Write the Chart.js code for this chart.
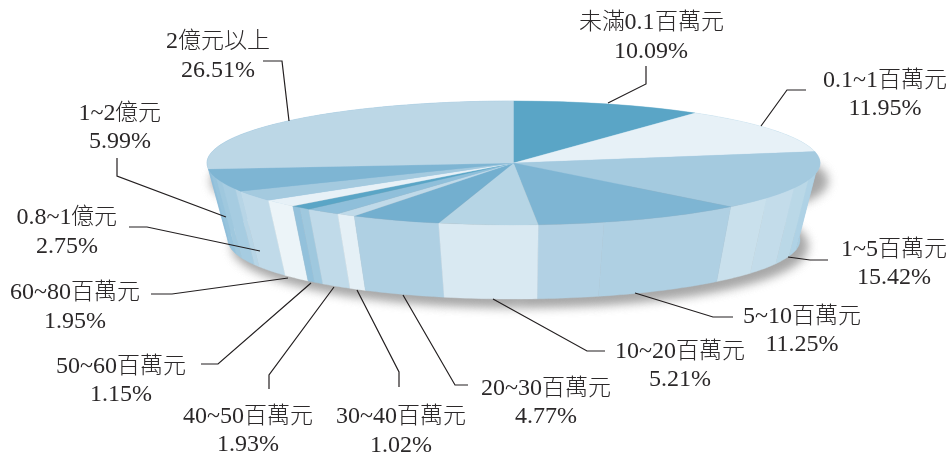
<!DOCTYPE html>
<html lang="zh-Hant">
<head>
<meta charset="utf-8">
<title>資本額分布</title>
<style>
  @font-face { font-family: "PieCJK"; src: local("Noto Sans CJK TC Light"), local("Noto Sans CJK TC"); size-adjust: 96%; }
  html, body { margin: 0; padding: 0; background: #fff; }
  canvas { display: block; }
</style>
<script src="https://cdn.jsdelivr.net/npm/chart.js@4/dist/chart.umd.min.js"></script>
</head>
<body>
<canvas id="pie" width="951" height="458"></canvas>
<script>
// Capital size classes and their shares, clockwise from twelve o'clock.
const categories = ['未滿0.1百萬元', '0.1~1百萬元', '1~5百萬元', '5~10百萬元', '10~20百萬元', '20~30百萬元',
  '30~40百萬元', '40~50百萬元', '50~60百萬元', '60~80百萬元', '0.8~1億元', '1~2億元', '2億元以上'];
const shares = [10.09, 11.95, 15.42, 11.25, 5.21, 4.77, 1.02, 1.93, 1.15, 1.95, 2.75, 5.99, 26.51];

const topColors = ['#5aa5c6', '#e7f1f7', '#a4cadf', '#7eb5d3', '#b6d5e5', '#73afcf', '#c0dae9',
  '#8fbfda', '#5aa5c6', '#e7f1f7', '#a4cadf', '#7eb5d3', '#bcd7e6'];

// Rim shading per slice: [end of band as a fraction of the slice, colour].
const rimBands = [
  [[1, '#a5cce1']],
  [[1, '#a5cce1']],
  [[0.37, '#a8cee2'], [0.48, '#afd2e5'], [0.62, '#bad8e7'], [0.81, '#c3dcea'], [1, '#c9e0ec']],
  [[0.69, '#afd0e3'], [1, '#b2d1e4']],
  [[1, '#d9e9f2']],
  [[1, '#afd0e3']],
  [[1, '#e5f0f6']],
  [[1, '#c0dae9']],
  [[0.55, '#9fc8de'], [1, '#93c1db']],
  [[1, '#ecf4f8']],
  [[1, '#c0dae9']],
  [[0.1, '#b7d5e6'], [0.42, '#a6cce1'], [0.6, '#9fc8de'], [0.82, '#96c3dc'], [1, '#8fbeda']],
  [[1, '#8fbeda']]
];

// Label text centres and baselines: [x, first line, second line].
const labelSpots = [[651, 29, 58], [885, 87, 115], [894, 256, 284], [802, 323, 351], [680, 358, 386],
  [546, 395, 423], [401, 423, 452], [248, 423, 451], [121, 373, 401], [75, 299, 328],
  [67, 224, 253], [120, 120, 148], [218, 48, 77]];

// Leader lines, running from the label towards the slice.
const leaders = [
  [[646, 66], [646, 84], [608, 103]],
  [[806, 90], [787, 90], [761, 126]],
  [[828, 260], [810, 260], [788, 257]],
  [[733, 317], [713, 317], [635, 293]],
  [[605, 351], [587, 351], [493, 299]],
  [[468, 385], [455, 385], [403, 295]],
  [[399, 387], [399, 372], [357, 290]],
  [[269, 389], [269, 375], [334, 287]],
  [[201, 364], [218, 364], [311, 283]],
  [[151, 294], [172, 294], [288, 278]],
  [[129, 227], [147, 227], [260, 251]],
  [[117, 158], [117, 176], [226, 217]],
  [[263, 61], [282, 61], [289, 121]]
];

// Disc geometry: the lid ellipse and the slightly narrower foot ellipse.
const lid = { x: 513.5, y: 163, rx: 306.5, ry: 62 };
const foot = { x: 514, y: 240, rx: 286, ry: 59 };
// The cast shadow starts lower than the lid so the far edge stays clean.
const shadowLid = { x: 513.5, y: 175, rx: 306.5, ry: 50 };

const pointOn = (e, a) => [e.x + e.rx * Math.cos(a), e.y + e.ry * Math.sin(a)];

function traceBand(ctx, a0, a1, upper = lid, lower = foot) {
  const steps = Math.max(2, Math.ceil((a1 - a0) / 0.02));
  ctx.beginPath();
  for (let i = 0; i <= steps; i++) {
    const p = pointOn(upper, a0 + (a1 - a0) * i / steps);
    i ? ctx.lineTo(p[0], p[1]) : ctx.moveTo(p[0], p[1]);
  }
  for (let i = steps; i >= 0; i--) {
    const p = pointOn(lower, a0 + (a1 - a0) * i / steps);
    ctx.lineTo(p[0], p[1]);
  }
  ctx.closePath();
}

function drawShadow(ctx) {
  ctx.save();
  ctx.filter = 'blur(6px)';
  ctx.fillStyle = 'rgb(168,168,168)';
  ctx.translate(6, 6);
  traceBand(ctx, -Math.PI / 2, Math.PI / 2, shadowLid);
  ctx.fill();
  traceBand(ctx, Math.PI / 2, Math.PI * 1.5, shadowLid);
  ctx.fill();
  ctx.beginPath();
  ctx.ellipse(foot.x, foot.y, foot.rx, foot.ry, 0, 0, Math.PI * 2);
  ctx.fill();
  ctx.beginPath();
  ctx.ellipse(shadowLid.x, shadowLid.y, shadowLid.rx, shadowLid.ry, 0, 0, Math.PI * 2);
  ctx.fill();
  ctx.restore();
}

function drawRim(ctx, arcs) {
  const bands = [];
  arcs.forEach((arc, i) => {
    const { startAngle, endAngle } = arc.getProps(['startAngle', 'endAngle'], true);
    let from = 0;
    rimBands[i].forEach(([to, color]) => {
      bands.push({
        a0: startAngle + (endAngle - startAngle) * from,
        a1: startAngle + (endAngle - startAngle) * to,
        color
      });
      from = to;
    });
  });
  // Paint from the sides towards the viewer so nearer bands stay on top.
  bands.sort((p, q) => Math.sin((p.a0 + p.a1) / 2) - Math.sin((q.a0 + q.a1) / 2));
  bands.forEach(b => {
    traceBand(ctx, b.a0, b.a1);
    ctx.fillStyle = b.color;
    ctx.strokeStyle = b.color;
    ctx.lineWidth = 0.4;
    ctx.fill();
    ctx.stroke();
  });
}

const discPlugin = {
  id: 'disc',
  beforeDatasetsDraw(chart) {
    const ctx = chart.ctx;
    const arcs = chart.getDatasetMeta(0).data;
    drawShadow(ctx);
    drawRim(ctx, arcs);
    // Flatten the library's circular pie onto the lid ellipse.
    const c = arcs[0].getProps(['x', 'y', 'outerRadius'], true);
    ctx.save();
    ctx.translate(lid.x, lid.y);
    ctx.scale(lid.rx / c.outerRadius, lid.ry / c.outerRadius);
    ctx.translate(-c.x, -c.y);
  },
  afterDatasetsDraw(chart) {
    chart.ctx.restore();
  },
  afterDraw(chart) {
    const ctx = chart.ctx;
    ctx.save();
    ctx.strokeStyle = '#231f20';
    ctx.lineWidth = 1.2;
    leaders.forEach(path => {
      ctx.beginPath();
      path.forEach(([x, y], i) => i ? ctx.lineTo(x, y) : ctx.moveTo(x, y));
      ctx.stroke();
    });
    ctx.fillStyle = '#2b2829';
    ctx.textAlign = 'center';
    ctx.textBaseline = 'alphabetic';
    ctx.font = '24px "Liberation Serif", PieCJK, "Noto Sans CJK TC", serif';
    categories.forEach((name, i) => {
      const [x, y1, y2] = labelSpots[i];
      ctx.fillText(name, x, y1);
      ctx.fillText(shares[i].toFixed(2) + '%', x, y2);
    });
    ctx.restore();
  }
};

const chart = new Chart(document.getElementById('pie'), {
  type: 'pie',
  data: {
    labels: categories,
    datasets: [{
      data: shares,
      backgroundColor: topColors,
      borderColor: topColors,
      borderWidth: 0.5,
      clip: false
    }]
  },
  options: {
    responsive: false,
    animation: false,
    radius: 306.5,
    layout: { padding: 0 },
    plugins: { legend: { display: false }, tooltip: { enabled: false } }
  },
  plugins: [discPlugin]
});

document.fonts.load('24px PieCJK', '百萬元').then(() => chart.draw());
</script>
</body>
</html>
